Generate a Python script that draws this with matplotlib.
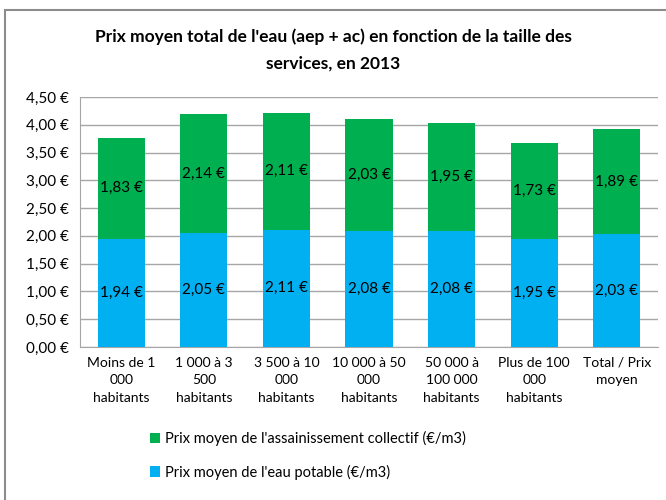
import matplotlib.pyplot as plt
import matplotlib.patches as mpatches

plt.rcParams['font.family'] = ['Lato', 'DejaVu Sans']

categories = ['Moins de 1\n000\nhabitants', '1 000 à 3\n500\nhabitants',
              '3 500 à 10\n000\nhabitants', '10 000 à 50\n000\nhabitants',
              '50 000 à\n100 000\nhabitants', 'Plus de 100\n000\nhabitants',
              'Total / Prix\nmoyen']
eau_potable = [1.94, 2.05, 2.11, 2.08, 2.08, 1.95, 2.03]
assainissement = [1.83, 2.14, 2.11, 2.03, 1.95, 1.73, 1.89]
yticks = [0, 0.5, 1, 1.5, 2, 2.5, 3, 3.5, 4, 4.5]

blue = '#00B0F0'
green = '#00B050'


def euro(v):
    return ('%.2f €' % v).replace('.', ',')


fig = plt.figure(figsize=(6.66, 5), dpi=100)
ax = fig.add_axes([0.120, 0.306, 0.868, 0.500])

x = range(len(categories))
b1 = ax.bar(x, eau_potable, width=0.57, color=blue, zorder=3)
b2 = ax.bar(x, assainissement, width=0.57, bottom=eau_potable, color=green, zorder=3)

for i in x:
    ax.text(i, eau_potable[i] / 2, euro(eau_potable[i]), ha='center', va='center',
            fontsize=11, zorder=4)
    ax.text(i, eau_potable[i] + assainissement[i] / 2, euro(assainissement[i]),
            ha='center', va='center', fontsize=11, zorder=4)

ax.set_ylim(0, 4.5)
ax.set_xlim(-0.5, len(categories) - 0.5)
ax.set_yticks(yticks)
ax.set_yticklabels([euro(v) for v in yticks], fontsize=11)
ax.set_xticks(list(x))
ax.set_xticklabels(categories, fontsize=10, linespacing=1.55)
ax.tick_params(length=0, pad=8)
ax.tick_params(axis='x', pad=7)
ax.yaxis.grid(True, color='#a6a6a6', linewidth=1, zorder=0)
for s in ['top', 'right']:
    ax.spines[s].set_visible(False)
for s in ['left', 'bottom']:
    ax.spines[s].set_color('#a6a6a6')

fig.text(0.5, 0.9, "Prix moyen total de l'eau (aep + ac) en fonction de la taille des\nservices, en 2013",
         ha='center', va='center', fontsize=12.5, fontweight='bold', linespacing=1.75)

fig.legend([b2, b1], ["Prix moyen de l'assainissement collectif (€/m3)",
                      "Prix moyen de l'eau potable (€/m3)"],
           loc='upper left', bbox_to_anchor=(0.214, 0.152), frameon=False,
           fontsize=10.5, handlelength=0.7, handleheight=0.7, handletextpad=0.35,
           labelspacing=1.25, borderpad=0)

frame = mpatches.Rectangle((5 / 666, -0.1), 1.2, 1 - 10 / 500 + 0.1, transform=fig.transFigure,
                           fill=False, edgecolor='#8c8c8c', linewidth=1.5)
fig.patches.append(frame)

fig.savefig('out.png', dpi=100)
